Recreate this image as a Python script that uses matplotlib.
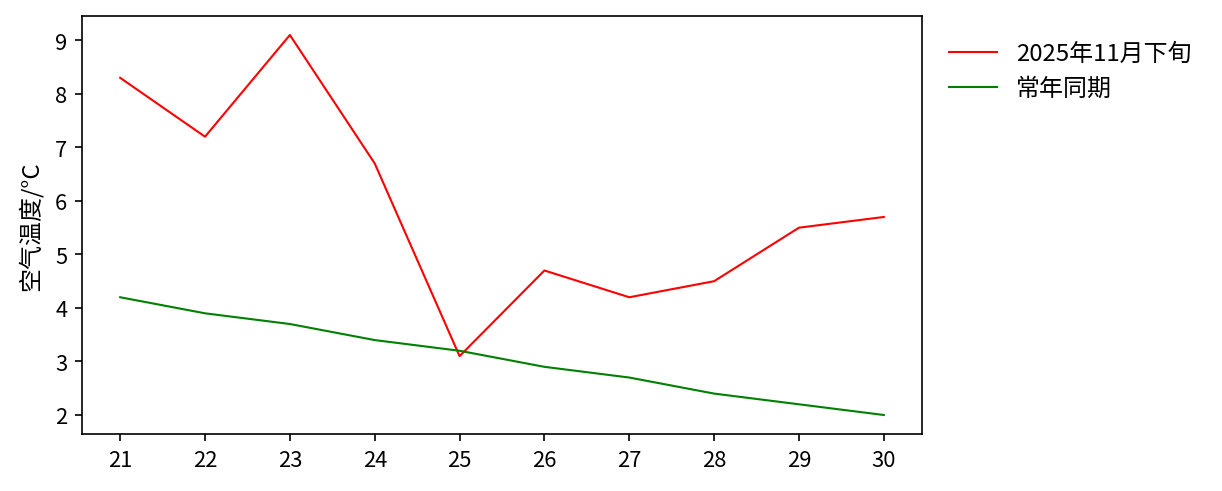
import matplotlib
matplotlib.use("Agg")
import matplotlib.pyplot as plt

plt.rcParams['font.family'] = ['Noto Sans CJK SC', 'DejaVu Sans']
plt.rcParams['axes.unicode_minus'] = False

days = [21, 22, 23, 24, 25, 26, 27, 28, 29, 30]
temp_2025 = [8.3, 7.2, 9.1, 6.7, 3.1, 4.7, 4.2, 4.5, 5.5, 5.7]
temp_normal = [4.2, 3.9, 3.7, 3.4, 3.2, 2.9, 2.7, 2.4, 2.2, 2.0]
labels = ['2025年11月下旬', '常年同期']

fig = plt.figure(figsize=(1222/150, 492/150), dpi=150)
ax = fig.add_axes([82/1222, 57/492, 840/1222, 418/492])
ax.plot(days, temp_2025, color='red', lw=1.0, label=labels[0])
ax.plot(days, temp_normal, color='green', lw=1.0, label=labels[1])
ax.set_xticks(days)
ax.tick_params(labelsize=10.5)
ax.set_ylabel('空气温度/°C', fontsize=11.5, labelpad=6)
ax.legend(loc='upper left', bbox_to_anchor=(0.995, 1.012), frameon=False,
          fontsize=11.5, borderaxespad=0.9)
fig.savefig('out.png', dpi=150)
